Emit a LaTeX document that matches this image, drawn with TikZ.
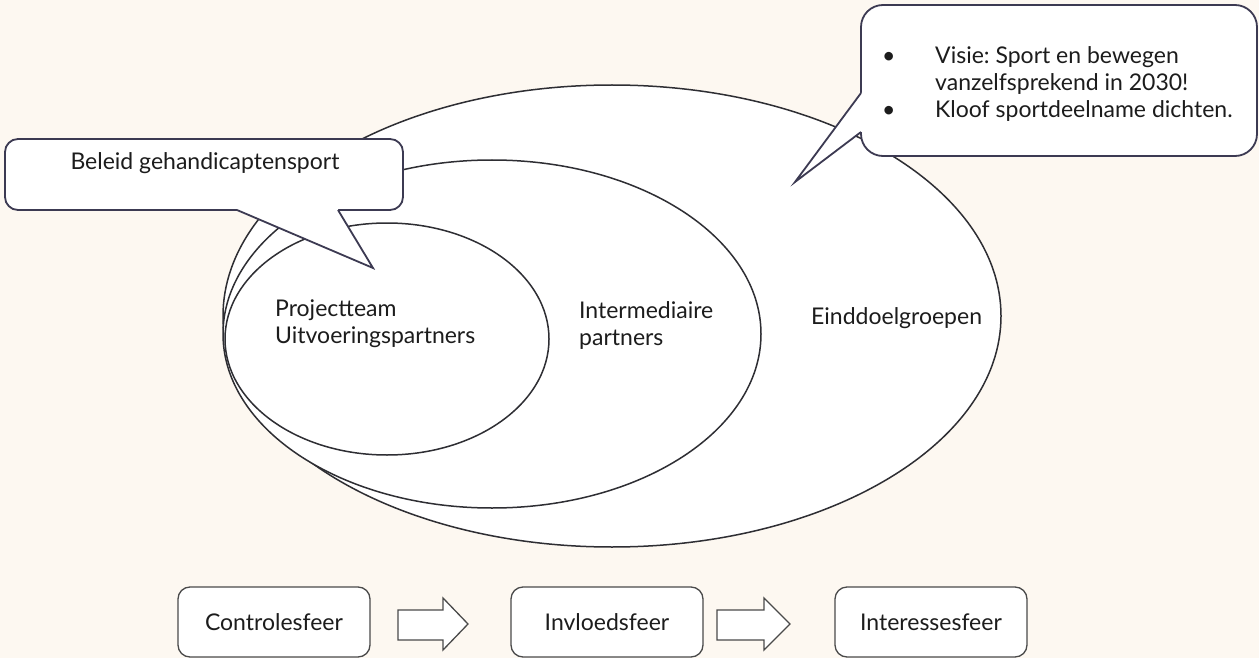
\documentclass[tikz,border=0pt]{standalone}
\usepackage{fontspec}
\setmainfont{Lato}
\usetikzlibrary{shapes.geometric}
\definecolor{bg}{HTML}{FDF8F1}
\definecolor{eline}{HTML}{2E2E33}
\definecolor{cline}{HTML}{3C3A52}
\definecolor{bline}{HTML}{4A4A4A}
\definecolor{txt}{HTML}{1C1C1C}
\frenchspacing
\begin{document}
\begin{tikzpicture}[x=1pt,y=-1pt,
  ell/.style={ellipse, draw=eline, line width=1.5pt, fill=white, inner sep=0pt},
  lbl/.style={text=txt, font=\fontsize{23}{27}\selectfont, inner sep=0pt},
  callbox/.style={draw=cline, line width=1.8pt, fill=white},
  callside/.style={draw=cline, line width=1.8pt, line join=miter},
  sfeer/.style={draw=bline, line width=1.3pt, fill=white, rounded corners=12pt,
    minimum width=192pt, minimum height=70pt, text=txt,
    font=\fontsize{23}{27}\selectfont},
  blockarrow/.style={draw=bline, line width=1.3pt, fill=white, line join=miter}]
\useasboundingbox[fill=bg] (0,0) rectangle (1259,658);

% nested spheres
\node[ell, minimum width=778pt, minimum height=462pt] (outer) at (612,316) {};
\node[ell, minimum width=538pt, minimum height=348pt] (middle) at (492,334) {};
\node[ell, minimum width=324pt, minimum height=232pt] (inner) at (387,339) {};

\node[lbl, anchor=west, align=left] (tinner) at (275,324) {Projectteam\\Uitvoeringspartners};
\node[lbl, anchor=west, align=left] (tmiddle) at (579,326) {Intermediaire\\partners};
\node[lbl, anchor=west] (touter) at (811,318) {Einddoelgroepen};

% left callout
\path[callbox, rounded corners=13pt] (5,139) rectangle (403,210);
\coordinate (lb1) at (237,210);
\coordinate (lb2) at (338,210);
\coordinate (ltip) at (373,268);
\fill[white] (237,205) -- (lb1) -- (ltip) -- (lb2) -- (338,205) -- cycle;
\draw[callside] (lb1) -- (ltip) -- (lb2);
\node[lbl] (tleft) at (205,163) {Beleid gehandicaptensport};

% right callout
\path[callbox, rounded corners=22pt] (861,5) rectangle (1257,156);
\coordinate (rb1) at (861,93);
\coordinate (rb2) at (861,132);
\coordinate (rtip) at (795,182);
\fill[white] (rb1) -- (rtip) -- (rb2) -- (866,132) -- (866,93) -- cycle;
\draw[callside] (rb1) -- (rtip) -- (rb2);
\node[lbl, anchor=north west] (tright) at (882,44) {%
  \begin{tabular}{@{}p{53pt}@{}l@{}}
  \textbullet & Visie: Sport en bewegen\\
   & vanzelfsprekend in 2030!\\
  \textbullet & Kloof sportdeelname dichten.
  \end{tabular}};

% bottom row
\node[sfeer] (controle) at (274,622) {Controlesfeer};
\node[sfeer] (invloed) at (607,622) {Invloedsfeer};
\node[sfeer] (interesse) at (931,622) {Interessesfeer};

\draw[blockarrow] (398,610) -- (443,610) -- (443,598) -- (468,624) -- (443,650) -- (443,640) -- (398,640) -- cycle;
\draw[blockarrow] (717,610) -- (764,610) -- (764,598) -- (790,624) -- (764,650) -- (764,640) -- (717,640) -- cycle;
\end{tikzpicture}
\end{document}
